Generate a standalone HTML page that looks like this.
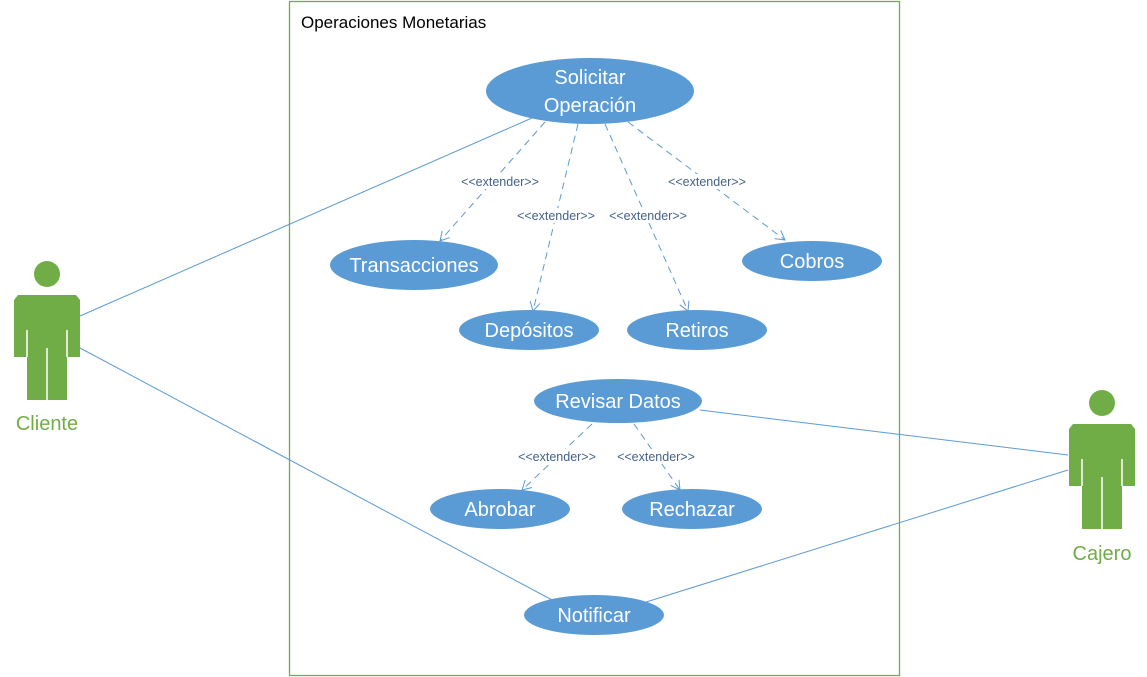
<!DOCTYPE html>
<html><head><meta charset="utf-8"><style>
html,body{margin:0;padding:0;background:#fff;}
svg{display:block;font-family:"Liberation Sans",sans-serif;}
</style></head><body>
<svg width="1147" height="677" viewBox="0 0 1147 677" xmlns="http://www.w3.org/2000/svg">
<defs>
<marker id="a" markerWidth="12" markerHeight="12" refX="10" refY="6" orient="auto" markerUnits="userSpaceOnUse">
<path d="M1,1 L10,6 L1,11" fill="none" stroke="#5b9bd5" stroke-width="1"/></marker>
<g id="actor">
<circle cx="33" cy="0" r="13" fill="#70ad47"/>
<path d="M4,21 L62,21 L66,26 L66,83 L53,83 L53,126 L13,126 L13,83 L0,83 L0,26 Z" fill="#70ad47"/>
<line x1="13" y1="56" x2="13" y2="83" stroke="#fff" stroke-width="1.5"/>
<line x1="53" y1="56" x2="53" y2="83" stroke="#fff" stroke-width="1.5"/>
<line x1="33" y1="74" x2="33" y2="126" stroke="#fff" stroke-width="1.5"/>
</g>
</defs>
<rect x="289.5" y="1.5" width="610" height="674" fill="none" stroke="#70ad47" stroke-width="1.3"/>
<text x="301" y="28" font-size="17" fill="#000">Operaciones Monetarias</text>

<g stroke="#5b9bd5" stroke-width="1" fill="none">
<line x1="80" y1="316" x2="532" y2="118"/>
<line x1="80" y1="348" x2="554" y2="601"/>
<line x1="1068" y1="455" x2="700" y2="410"/>
<line x1="1068" y1="470" x2="643" y2="603"/>
<g stroke-dasharray="7,5" marker-end="url(#a)">
<line x1="545" y1="122" x2="440" y2="241"/>
<line x1="578" y1="124" x2="533" y2="311"/>
<line x1="605" y1="124" x2="688" y2="311"/>
<line x1="628" y1="122" x2="785" y2="240"/>
<line x1="592" y1="424" x2="522" y2="490"/>
<line x1="634" y1="424" x2="680" y2="490"/>
</g>
</g>
<g font-size="12.5" fill="#44628a" text-anchor="middle">
<rect x="453" y="174" width="94" height="15" fill="#fff"/><text x="500" y="186">&lt;&lt;extender&gt;&gt;</text>
<rect x="511" y="208" width="184" height="15" fill="#fff"/><text x="556" y="220">&lt;&lt;extender&gt;&gt;</text><text x="648" y="220">&lt;&lt;extender&gt;&gt;</text>
<rect x="660" y="174" width="94" height="15" fill="#fff"/><text x="707" y="186">&lt;&lt;extender&gt;&gt;</text>
<rect x="510" y="449" width="94" height="15" fill="#fff"/><text x="557" y="461">&lt;&lt;extender&gt;&gt;</text>
<rect x="609" y="449" width="94" height="15" fill="#fff"/><text x="656" y="461">&lt;&lt;extender&gt;&gt;</text>
</g>

<g fill="#5b9bd5">
<ellipse cx="590" cy="91" rx="104" ry="33"/>
<ellipse cx="414" cy="265" rx="84" ry="25"/>
<ellipse cx="529" cy="330" rx="70" ry="20"/>
<ellipse cx="697" cy="330" rx="70" ry="20"/>
<ellipse cx="812" cy="261" rx="70" ry="20"/>
<ellipse cx="618" cy="401" rx="84" ry="22"/>
<ellipse cx="500" cy="509" rx="70" ry="20"/>
<ellipse cx="692" cy="509" rx="70" ry="20"/>
<ellipse cx="594" cy="615" rx="70" ry="20"/>
</g>
<g fill="#fff" font-size="20" text-anchor="middle">
<text x="590" y="84">Solicitar</text>
<text x="590" y="112">Operación</text>
<text x="414" y="272">Transacciones</text>
<text x="529" y="337">Depósitos</text>
<text x="697" y="337">Retiros</text>
<text x="812" y="268">Cobros</text>
<text x="618" y="408">Revisar Datos</text>
<text x="500" y="516">Abrobar</text>
<text x="692" y="516">Rechazar</text>
<text x="594" y="622">Notificar</text>
</g>

<use href="#actor" x="14" y="274"/>
<use href="#actor" x="1069" y="403"/>
<g fill="#70ad47" font-size="20" text-anchor="middle">
<text x="47" y="430">Cliente</text>
<text x="1102" y="560">Cajero</text>
</g>
</svg>
</body></html>
